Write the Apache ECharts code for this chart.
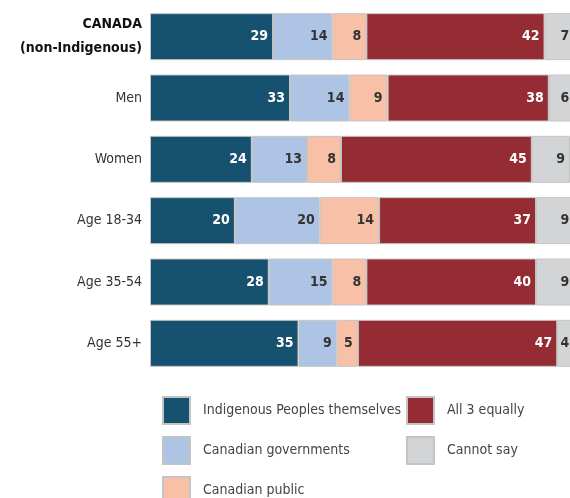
<!DOCTYPE html>
<html>
<head>
<meta charset="utf-8">
<script src="https://cdn.jsdelivr.net/npm/echarts@6/dist/echarts.min.js"></script>
<style>
  html, body { margin: 0; padding: 0; background: #fff; }
  #main { width: 570px; height: 498px; }
</style>
</head>
<body>
<div id="main"></div>
<script>
// categories, top to bottom
var categories = ['CANADA\n(non-Indigenous)', 'Men', 'Women', 'Age 18-34', 'Age 35-54', 'Age 55+'];
var seriesNames = ['Indigenous Peoples themselves', 'Canadian governments', 'Canadian public', 'All 3 equally', 'Cannot say'];
var indigenous = [29, 33, 24, 20, 28, 35];
var governments = [14, 14, 13, 20, 15, 9];
var publicVals = [8, 9, 8, 14, 8, 5];
var allThree = [42, 38, 45, 37, 40, 47];
var cannotSay = [7, 6, 9, 9, 9, 4];

var colors = ['#165170', '#aec4e4', '#f8c0a6', '#952c34', '#d3d4d6'];
var labelColors = ['#fff', '#333', '#333', '#fff', '#333'];
var values = [indigenous, governments, publicVals, allThree, cannotSay];
var font = '"DejaVu Sans Condensed", "Liberation Sans Narrow", sans-serif';

var myChart = echarts.init(document.getElementById('main'));

var series = seriesNames.map(function (name, i) {
  return {
    name: name,
    type: 'bar',
    stack: 'total',
    barWidth: 47,
    clip: false, // the chart runs a little past the right edge
    data: values[i],
    itemStyle: { color: colors[i], borderColor: '#c4c4c4', borderWidth: 1 },
    label: {
      show: true,
      position: 'insideRight',
      distance: 5,
      color: labelColors[i],
      fontFamily: font,
      fontWeight: 'bold',
      fontSize: 14
    }
  };
});

var legendText = { color: '#444', fontFamily: font, fontSize: 14, padding: [0, 0, 0, 8] };

var option = {
  animation: false,
  color: colors,
  grid: { left: 150, right: 0, top: 6, height: 368 },
  xAxis: {
    type: 'value', min: 0, max: 99,
    show: false
  },
  yAxis: {
    type: 'category',
    inverse: true,
    data: categories,
    axisLine: { show: false },
    axisTick: { show: false },
    axisLabel: {
      margin: 8,
      color: '#333',
      fontFamily: font,
      fontSize: 14,
      lineHeight: 24,
      formatter: function (v) {
        return v.indexOf('CANADA') === 0 ? '{b|' + v.replace('\n', '}\n{b|') + '}' : v;
      },
      rich: {
        b: { fontWeight: 'bold', color: '#111', fontFamily: font, fontSize: 14, lineHeight: 24 }
      }
    }
  },
  legend: [
    {
      data: seriesNames.slice(0, 3),
      orient: 'vertical',
      left: 162, top: 396, height: 140, padding: 0,
      itemWidth: 27, itemHeight: 27, itemGap: 11,
      icon: 'rect',
      textStyle: legendText
    },
    {
      data: seriesNames.slice(3),
      orient: 'vertical',
      left: 406, top: 396, height: 140, padding: 0,
      itemWidth: 27, itemHeight: 27, itemGap: 11,
      icon: 'rect',
      textStyle: legendText
    }
  ],
  series: series
};

myChart.setOption(option);
</script>
</body>
</html>
